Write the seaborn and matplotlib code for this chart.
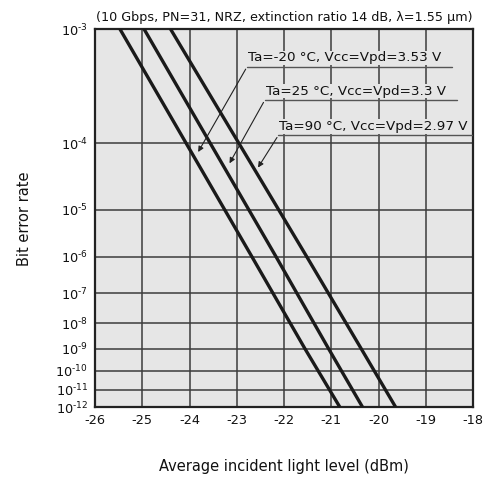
import numpy as np
import pandas as pd
import seaborn as sns
import matplotlib
matplotlib.use("Agg")
import matplotlib.pyplot as plt

# bit error rate levels and received power (dBm)
ber = [1e-3, 1e-6, 1e-9, 1e-12]
p_m20 = [-25.47, -22.68, -21.56, -20.82]
p_25 = [-24.96, -22.17, -21.06, -20.34]
p_90 = [-24.40, -21.52, -20.37, -19.64]
labels = ["Ta=-20 °C, Vcc=Vpd=3.53 V", "Ta=25 °C, Vcc=Vpd=3.3 V", "Ta=90 °C, Vcc=Vpd=2.97 V"]

x_ticks = [-26, -25, -24, -23, -22, -21, -20, -19, -18]
y_ticks = [1e-3, 1e-4, 1e-5, 1e-6, 1e-7, 1e-8, 1e-9, 1e-10, 1e-11, 1e-12]
y_ticklabels = [r"$10^{\text{-%d}}$" % e for e in range(3, 13)]

df = pd.concat([
    pd.DataFrame({"power": p, "ber": ber, "cond": lab})
    for p, lab in zip([p_m20, p_25, p_90], labels)
])

sns.set_style("white", {"axes.facecolor": "#e6e6e6"})
plt.rcParams["font.family"] = ["DejaVu Sans"]
plt.rcParams["mathtext.default"] = "regular"

fig = plt.figure(figsize=(4.9, 4.84), dpi=100)
ax = fig.add_axes([0.1939, 0.1585, 0.772, 0.781])


# BER paper scale: log10(-log10(BER) - 2)
def fwd(b):
    b = np.clip(np.asarray(b, dtype=float), 1e-300, 9.9e-3)
    return -np.log10(-np.log10(b) - 2)


def inv(y):
    return 10 ** (-(10 ** (-np.asarray(y, dtype=float)) + 2))


ax.set_yscale("function", functions=(fwd, inv))

sns.lineplot(data=df, x="power", y="ber", hue="cond", palette=["#1a1a1a"] * 3,
             estimator=None, sort=False, legend=False, lw=2.4, ax=ax, zorder=3)

ax.set_xlim(-26, -18)
ax.set_ylim(1e-12, 1e-3)
ax.set_xticks(x_ticks)
ax.set_xticklabels([str(t) for t in x_ticks])
ax.set_yticks(y_ticks)
ax.set_yticklabels(y_ticklabels)
ax.minorticks_off()
ax.tick_params(length=0, labelsize=9.3, pad=5, colors="#111")
ax.grid(True, color="#3c3c3c", lw=1.1)
for s in ax.spines.values():
    s.set_color("#222")
    s.set_linewidth(1.6)

ax.set_xlabel("Average incident light level (dBm)", fontsize=10.5, labelpad=23, color="#111")
ax.set_ylabel("Bit error rate", fontsize=10.5, labelpad=17, color="#111")
ax.set_title("(10 Gbps, PN=31, NRZ, extinction ratio 14 dB, λ=1.55 µm)", fontsize=9.2, pad=6, color="#111")

# callouts: text, underline start/end, arrow tip (axes fraction)
callouts = [
    (labels[0], 0.402, 0.944, 0.901, (0.269, 0.669)),
    (labels[1], 0.449, 0.956, 0.813, (0.352, 0.639)),
    (labels[2], 0.485, 0.999, 0.720, (0.427, 0.628)),
]
for txt, x0, x1, yl, tip in callouts:
    ax.plot([x0, x1], [yl, yl], color="#555", lw=1.0, transform=ax.transAxes, zorder=4)
    ax.text(x0 + 0.002, yl + 0.006, txt, transform=ax.transAxes, fontsize=9.7,
            ha="left", va="bottom", color="#111", zorder=5,
            bbox=dict(facecolor="#e6e6e6", edgecolor="none", pad=0.5))
    ax.annotate("", xy=tip, xycoords="axes fraction", xytext=(x0, yl), textcoords="axes fraction",
                arrowprops=dict(arrowstyle="-|>", color="#222", lw=0.8, mutation_scale=8), zorder=5)

fig.savefig("out.png", dpi=100)
